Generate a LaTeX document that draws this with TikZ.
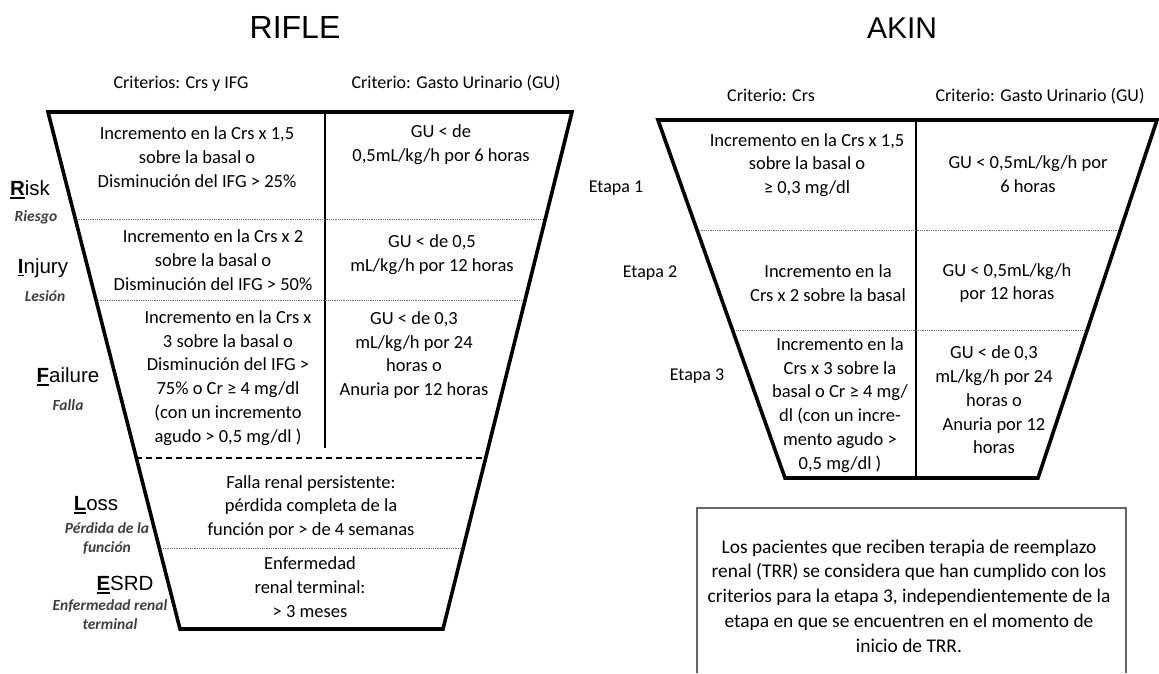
\documentclass[tikz,border=0pt]{standalone}
\usepackage{fontspec}
\setmainfont{Carlito}
\newfontfamily\arialf{Liberation Sans}
\usetikzlibrary{calc}
\definecolor{subgray}{RGB}{64,64,64}
\newcommand\ulR[1]{\setbox0\hbox{\bfseries #1}\rlap{\rule[-3pt]{\wd0}{1.8pt}}\box0}
\tikzset{
  cell/.style={align=center, inner sep=0pt, font=\fontsize{18.5}{23.8}\selectfont},
  hdr/.style={inner sep=0pt, anchor=base, font=\fontsize{18}{22}\selectfont},
  ttl/.style={inner sep=0pt, anchor=base, font=\arialf\fontsize{32}{36}\selectfont},
  lvl/.style={inner sep=0pt, font=\arialf\fontsize{20.5}{24}\selectfont},
  sublbl/.style={inner sep=0pt, align=center, text=subgray, font=\bfseries\itshape\fontsize{15.5}{19}\selectfont},
  etapa/.style={inner sep=0pt, font=\fontsize{18}{22}\selectfont},
  funnel/.style={line width=3.6pt, line join=miter},
  divider/.style={line width=1.2pt},
  dotsep/.style={line width=0.9pt, black!55, dash pattern=on 0.9pt off 0.9pt},
  dashsep/.style={line width=1.4pt, dash pattern=on 6pt off 4pt},
  notebox/.style={line width=1.2pt, black!60},
}
\begin{document}
\begin{tikzpicture}[x=1pt,y=-1pt]
\useasboundingbox (0,0) rectangle (1159,673);
\fill[white] (0,0) rectangle (1159,673);

% ---------------- RIFLE ----------------
\node[ttl] (rifle) at (295,38) {RIFLE};
\node[hdr] (rh1) at (181,88) {Criterios: Crs y IFG};
\node[hdr] (rh2) at (456,88) {Criterio: Gasto Urinario (GU)};

\coordinate (rTL) at (48,112);
\coordinate (rTR) at (572,112);
\coordinate (rBL) at (180,629);
\coordinate (rBR) at (443,629);
\coordinate (rDt) at (325,112);
\coordinate (rDb) at (325,448);

\draw[divider] (rDt) -- (rDb);
\draw[dotsep] ($(rTL)!0.2070!(rBL)$) -- ($(rTR)!0.2070!(rBR)$);
\draw[dotsep] ($(rTL)!0.3636!(rBL)$) -- ($(rTR)!0.3636!(rBR)$);
\draw[dashsep] ($(rTL)!0.6692!(rBL)$) -- ($(rTR)!0.6692!(rBR)$);
\draw[dotsep] ($(rTL)!0.8433!(rBL)$) -- ($(rTR)!0.8433!(rBR)$);
\draw[funnel] (rTL) -- (rBL) -- (rBR) -- (rTR) -- cycle;

\node[cell] (c1L) at (197,157) {Incremento en la Crs x 1,5\\sobre la basal o\\Disminución del IFG > 25\%};
\node[cell] (c1R) at (441,145) {GU < de\\0,5mL/kg/h por 6 horas};
\node[cell] (c2L) at (213,260) {Incremento en la Crs x 2\\sobre la basal o\\Disminución del IFG > 50\%};
\node[cell] (c2R) at (432,255) {GU < de 0,5\\mL/kg/h por 12 horas};
\node[cell] (c3L) at (228,378) {Incremento en la Crs x\\3 sobre la basal o\\Disminución del IFG >\\75\% o Cr ≥ 4 mg/dl\\(con un incremento\\agudo > 0,5 mg/dl )};
\node[cell] (c3R) at (414,355) {GU < de 0,3\\mL/kg/h por 24\\horas o\\Anuria por 12 horas};
\node[cell] (c4) at (311,507) {Falla renal persistente:\\pérdida completa de la\\función por > de 4 semanas};
\node[cell] (c5) at (310,587) {Enfermedad\\renal terminal:\\> 3 meses};

\node[lvl] (risk) at (30,190) {\ulR{R}isk};
\node[sublbl] (riesgo) at (36,217) {Riesgo};
\node[lvl] (injury) at (43,268) {\ulR{I}njury};
\node[sublbl] (lesion) at (45,296) {Lesión};
\node[lvl] (failure) at (68,377) {\ulR{F}ailure};
\node[sublbl] (falla) at (68,405) {Falla};
\node[lvl] (loss) at (96,505) {\ulR{L}oss};
\node[sublbl] (perdida) at (107,538) {Pérdida de la\\función};
\node[lvl] (esrd) at (125,585) {\ulR{E}SRD};
\node[sublbl] (enfren) at (110,615) {Enfermedad renal\\terminal};

% ---------------- AKIN ----------------
\node[ttl, font=\arialf\fontsize{30}{34}\selectfont] (akin) at (902,38) {AKIN};
\node[hdr] (ah1) at (771,101) {Criterio: Crs};
\node[hdr] (ah2) at (1040,101) {Criterio: Gasto Urinario (GU)};

\coordinate (aTL) at (658,120);
\coordinate (aTR) at (1157,120);
\coordinate (aBL) at (785,478);
\coordinate (aBR) at (1038,478);
\coordinate (aDt) at (916,120);
\coordinate (aDb) at (916,478);

\draw[divider] (aDt) -- (aDb);
\draw[dotsep] ($(aTL)!0.3073!(aBL)$) -- ($(aTR)!0.3073!(aBR)$);
\draw[dotsep] ($(aTL)!0.5866!(aBL)$) -- ($(aTR)!0.5866!(aBR)$);
\draw[funnel] (aTL) -- (aBL) -- (aBR) -- (aTR) -- cycle;

\node[cell] (a1L) at (807,165) {Incremento en la Crs x 1,5\\sobre la basal o\\≥ 0,3 mg/dl};
\node[cell] (a1R) at (1028,174) {GU < 0,5mL/kg/h por\\6 horas};
\node[cell] (a2L) at (828,283) {Incremento en la\\Crs x 2 sobre la basal};
\node[cell] (a2R) at (1007,283) {GU < 0,5mL/kg/h\\por 12 horas};
\node[cell] (a3L) at (840,405) {Incremento en la\\Crs x 3 sobre la\\basal o Cr ≥ 4 mg/\\dl (con un incre-\\mento agudo >\\0,5 mg/dl )};
\node[cell] (a3R) at (994,400) {GU < de 0,3\\mL/kg/h por 24\\horas o\\Anuria por 12\\horas};

\node[etapa] (e1) at (616,188) {Etapa 1};
\node[etapa] (e2) at (650,273) {Etapa 2};
\node[etapa] (e3) at (697,376) {Etapa 3};

% ---------------- note box ----------------
\coordinate (bBL) at (697,673);
\coordinate (bTL) at (697,508);
\coordinate (bTR) at (1126,508);
\coordinate (bBR) at (1126,673);
\draw[notebox] (bBL) -- (bTL) -- (bTR) -- (bBR);
\node[cell, font=\fontsize{19.4}{24.75}\selectfont] (note) at (909,596) {Los pacientes que reciben terapia de reemplazo\\renal (TRR) se considera que han cumplido con los\\criterios para la etapa 3, independientemente de la\\etapa en que se encuentren en el momento de\\inicio de TRR.};
\end{tikzpicture}
\end{document}
